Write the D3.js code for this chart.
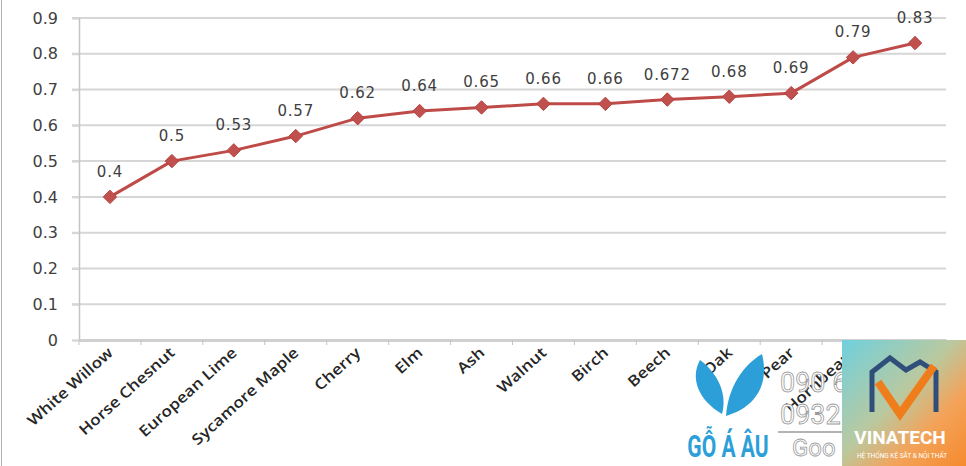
<!DOCTYPE html>
<html>
<head>
<meta charset="utf-8">
<script src="https://cdn.jsdelivr.net/npm/d3@7"></script>
<style>
  html, body { margin: 0; padding: 0; background: #fff; }
  svg { display: block; }
</style>
</head>
<body>
<div id="chart"></div>
<script>
// wood density by species
const species = ['White Willow', 'Horse Chesnut', 'European Lime', 'Sycamore Maple', 'Cherry', 'Elm', 'Ash',
  'Walnut', 'Birch', 'Beech', 'Oak', 'Pear', 'Hornbeam', 'Apple'];
const density = [0.4, 0.5, 0.53, 0.57, 0.62, 0.64, 0.65, 0.66, 0.66, 0.672, 0.68, 0.69, 0.79, 0.83];
const yTicks = [0, 0.1, 0.2, 0.3, 0.4, 0.5, 0.6, 0.7, 0.8, 0.9];

const width = 966;
const height = 466;
const margin = { top: 18, right: 20, bottom: 126, left: 79 };
const chartWidth = width - margin.left - margin.right;
const chartHeight = height - margin.top - margin.bottom;

const svg = d3.select('#chart').append('svg')
  .attr('width', width)
  .attr('height', height);

// frame line on the left edge
svg.append('line')
  .attr('x1', 1.5).attr('x2', 1.5).attr('y1', 0).attr('y2', height)
  .attr('stroke', '#b0b0b0').attr('stroke-width', 1);

const g = svg.append('g').attr('transform', `translate(${margin.left},${margin.top})`);

const x = d3.scaleBand().domain(species).range([0, chartWidth]);
const y = d3.scaleLinear().domain([0, 0.9]).range([chartHeight, 0]);

// horizontal gridlines
g.append('g')
  .selectAll('line')
  .data(yTicks.filter(d => d > 0))
  .join('line')
  .attr('x1', -7).attr('x2', chartWidth)
  .attr('y1', d => y(d)).attr('y2', d => y(d))
  .attr('stroke', '#d6d6d6')
  .attr('stroke-width', 2);

// y axis
const yAxis = g.append('g')
  .call(d3.axisLeft(y).tickValues(yTicks).tickFormat(d => d === 0 ? '0' : d3.format('.1f')(d)).tickSize(7).tickPadding(14));
yAxis.select('.domain').attr('stroke', '#c4c4c4').attr('stroke-width', 1.5);
yAxis.selectAll('.tick line').attr('stroke', '#d6d6d6').attr('stroke-width', 2);
yAxis.selectAll('.tick text')
  .attr('font-family', 'DejaVu Sans, sans-serif')
  .attr('font-size', 16)
  .attr('fill', '#404040');

// x axis
const xAxis = g.append('g')
  .attr('transform', `translate(0,${chartHeight})`)
  .call(d3.axisBottom(x).tickSize(0).tickFormat(''));
xAxis.select('.domain').attr('stroke', '#d0d0d0').attr('stroke-width', 3);

// small category separators below the axis
g.append('g')
  .selectAll('line')
  .data(species)
  .join('line')
  .attr('x1', d => x(d)).attr('x2', d => x(d))
  .attr('y1', chartHeight).attr('y2', chartHeight + 5)
  .attr('stroke', '#c4c4c4');

// rotated category labels
g.append('g')
  .selectAll('text')
  .data(species)
  .join('text')
  .attr('transform', d => `translate(${x(d) + x.bandwidth() / 2 + 4},${chartHeight + 14}) rotate(-42) scale(1.15,1)`)
  .attr('text-anchor', 'end')
  .attr('font-family', 'Open Sans, sans-serif')
  .attr('font-weight', 600)
  .attr('font-size', 15)
  .attr('fill', '#262626')
  .text(d => d);

// the line
const pts = species.map((s, i) => ({ name: s, value: density[i] }));
const drawLine = d3.line()
  .x(d => x(d.name) + x.bandwidth() / 2)
  .y(d => y(d.value));

g.append('path')
  .datum(pts)
  .attr('fill', 'none')
  .attr('stroke', '#be4b48')
  .attr('stroke-width', 3)
  .attr('stroke-linejoin', 'round')
  .attr('d', drawLine);

// diamond markers
g.append('g')
  .selectAll('path')
  .data(pts)
  .join('path')
  .attr('transform', d => `translate(${x(d.name) + x.bandwidth() / 2},${y(d.value)})`)
  .attr('d', d3.symbol(d3.symbolDiamond2, 115))
  .attr('fill', '#c0504d')
  .attr('stroke', '#b8423f')
  .attr('stroke-width', 1);

// value labels
g.append('g')
  .selectAll('text')
  .data(pts)
  .join('text')
  .attr('x', d => x(d.name) + x.bandwidth() / 2)
  .attr('y', d => y(d.value) - 20)
  .attr('text-anchor', 'middle')
  .attr('font-family', 'DejaVu Sans, sans-serif')
  .attr('font-size', 15)
  .attr('letter-spacing', 0.8)
  .attr('fill', '#404040')
  .text(d => String(d.value));

// watermark overlays (bottom right)
const wm = svg.append('g');

// leaf logo
wm.append('path')
  .attr('d', 'M722,414 C698,400 690,378 700,360 C716,372 728,392 722,414 Z')
  .attr('fill', '#2d9fd8');
wm.append('path')
  .attr('d', 'M726,416 C728,388 742,366 762,354 C770,386 754,408 726,416 Z')
  .attr('fill', '#2d9fd8');
wm.append('text')
  .attr('transform', 'translate(728,457) scale(0.78,1.15)')
  .attr('text-anchor', 'middle')
  .attr('font-family', 'Roboto, sans-serif')
  .attr('font-weight', 'bold')
  .attr('font-size', 27)
  .attr('fill', '#2d9fd8')
  .text('GỖ Á ÂU');

// outlined phone numbers
const phone = wm.append('g')
  .attr('font-family', 'Roboto, sans-serif')
  .attr('fill', '#fff')
  .attr('stroke', '#9a9a9a')
  .attr('stroke-width', 0.8);
phone.append('text').attr('x', 780).attr('y', 392).attr('font-size', 27).text('090 66');
phone.append('text').attr('x', 780).attr('y', 424).attr('font-size', 27).text('0932');
phone.append('text').attr('x', 792).attr('y', 456).attr('font-size', 24).text('Goo');
wm.append('line')
  .attr('x1', 778).attr('x2', 842).attr('y1', 432).attr('y2', 432)
  .attr('stroke', '#9a9a9a').attr('stroke-width', 1.5);

// vinatech square
const grad = svg.append('defs').append('linearGradient')
  .attr('id', 'vina').attr('x1', '0%').attr('y1', '0%').attr('x2', '100%').attr('y2', '100%');
grad.append('stop').attr('offset', '0%').attr('stop-color', '#6fd0de');
grad.append('stop').attr('offset', '45%').attr('stop-color', '#b9c9a0');
grad.append('stop').attr('offset', '70%').attr('stop-color', '#f3a35a');
grad.append('stop').attr('offset', '100%').attr('stop-color', '#f58a2e');
wm.append('rect')
  .attr('x', 842).attr('y', 340).attr('width', 124).attr('height', 126)
  .attr('fill', 'url(#vina)');
wm.append('path')
  .attr('d', 'M872,412 L872,372 L890,358 L906,370 L920,362 L936,372 L936,412')
  .attr('fill', 'none').attr('stroke', '#2f4f7a').attr('stroke-width', 5);
wm.append('path')
  .attr('d', 'M878,382 L900,414 L934,366')
  .attr('fill', 'none').attr('stroke', '#f07d1c').attr('stroke-width', 8);
wm.append('text')
  .attr('x', 900).attr('y', 444)
  .attr('text-anchor', 'middle')
  .attr('font-family', 'Roboto, sans-serif')
  .attr('font-weight', 'bold')
  .attr('font-size', 19)
  .attr('fill', '#fff')
  .text('VINATECH');
wm.append('text')
  .attr('x', 902).attr('y', 458)
  .attr('text-anchor', 'middle')
  .attr('font-family', 'Roboto, sans-serif')
  .attr('font-size', 6.5)
  .attr('fill', '#fff')
  .text('HỆ THỐNG KỆ SẮT & NỘI THẤT');
</script>
</body>
</html>
